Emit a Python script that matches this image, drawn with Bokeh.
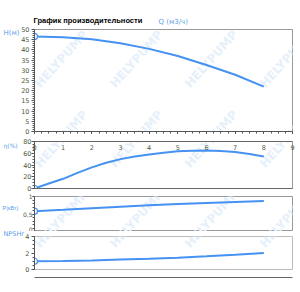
from bokeh.plotting import figure
from bokeh.layouts import column
from bokeh.models import Range1d, LinearAxis, Label, FixedTicker
from bokeh.embed import file_html
from bokeh.resources import INLINE

# ---- data ----
Q = [0, 1, 2, 3, 4, 5, 6, 7, 8]
H = [46.6, 46.2, 45.2, 43.3, 40.5, 37.0, 32.6, 27.8, 22.0]
Q_EFF = [0, 0.5, 1, 1.5, 2, 2.5, 3, 3.5, 4, 4.5, 5, 5.5, 6, 6.5, 7, 7.5, 8]
EFF = [0, 8.5, 16.5, 26.7, 36, 43.7, 50, 54.5, 58, 61, 63.3, 64.3, 64.7, 63.8, 62, 58.7, 54.5]
POWER = [0.58, 0.62, 0.665, 0.71, 0.75, 0.785, 0.815, 0.845, 0.87]
NPSH = [1.0, 1.03, 1.1, 1.2, 1.3, 1.43, 1.6, 1.78, 2.0]

x_ticks = [0, 1, 2, 3, 4, 5, 6, 7, 8, 9]
h_ticks = [0, 5, 10, 15, 20, 25, 30, 35, 40, 45, 50]
eff_ticks = [0, 20, 40, 60, 80]
p_ticks = [0, 0.5, 1]
npsh_ticks = [0, 2, 4]

title_text = "График производительности"
q_label = "Q (м3/ч)"
h_label = "H(м)"
eff_label = "η(%)"
p_label = "P(кВт)"
npsh_label = "NPSHr"
watermark = "HELYPUMP"

FONT = "DejaVu Sans"
LINE = "#4592f2"
TICK_TXT = "#4b5a3c"
LBL = "#5aa0e8"
AXIS = "#555555"


def make_fig(height, top, bottom, yr):
    p = figure(width=300, height=height, x_range=Range1d(0, 9), y_range=Range1d(*yr),
               output_backend="svg", toolbar_location=None,
               min_border_left=34, min_border_right=8,
               min_border_top=top, min_border_bottom=bottom,
               x_axis_location=None, y_axis_location=None)
    p.frame_align = False
    p.xgrid.visible = False
    p.ygrid.visible = False
    p.outline_line_color = "#999999"
    p.background_fill_color = "white"
    p.border_fill_color = "white"
    return p


def no_ticks(ax):
    ax.major_tick_out = 0
    ax.major_tick_in = 0
    ax.minor_tick_out = 0
    ax.minor_tick_in = 0


def left_axis(p, ticks, minor, overrides=None, standoff=2, tick=3, size="6.5px"):
    ax = LinearAxis(ticker=FixedTicker(ticks=ticks, minor_ticks=minor))
    ax.major_label_text_font_size = size
    ax.major_label_text_font = FONT
    ax.major_label_text_color = TICK_TXT
    ax.major_tick_out = tick
    ax.major_tick_in = 0
    ax.minor_tick_out = 2
    ax.minor_tick_in = 0
    ax.major_label_standoff = standoff
    for a in ("axis_line_color", "major_tick_line_color", "minor_tick_line_color"):
        setattr(ax, a, AXIS)
    if overrides:
        ax.major_label_overrides = overrides
    p.add_layout(ax, "left")


def side_text(p, side, x, y, t, color=LBL, size="7px", style="normal", font=FONT):
    # text kept in a side panel (outside the frame), placed in canvas pixels
    p.add_layout(Label(x=x, y=y, x_units="canvas", y_units="canvas", text=t,
                       text_font=font, text_font_size=size, text_color=color,
                       text_font_style=style, text_baseline="middle"), side)


def bare_bottom(p):
    ax = LinearAxis(ticker=FixedTicker(ticks=[]))
    ax.major_label_text_font_size = "0px"
    no_ticks(ax)
    ax.major_label_standoff = 0
    ax.axis_line_color = "#666666"
    p.add_layout(ax, "below")


def curve(p, x, y):
    p.line(x, y, line_color=LINE, line_width=2)
    p.scatter(x[:1], y[:1], size=6, marker="circle", fill_color="white",
              line_color=LINE, line_width=1.2)


def marks(p, y0):
    for gy in (62, 142, 222):
        for gx in (70, 145, 220, 295):
            p.add_layout(Label(x=gx - 28, y=gy + 28 - y0, x_units="canvas", y_units="canvas",
                               text=watermark, angle=48, angle_units="deg",
                               text_font=FONT, text_font_size="12px",
                               text_font_style="bold", text_color="#e6f0fb",
                               level="underlay"))


minor_x = [i * 0.25 for i in range(37)]

# ---- panel 1 : H ----
f1 = make_fig(134, 29, 3, (0, 50))
left_axis(f1, h_ticks, list(range(51)))
xb = LinearAxis(ticker=FixedTicker(ticks=x_ticks, minor_ticks=minor_x))
xb.major_label_text_font_size = "0px"
xb.major_label_standoff = 0
xb.major_tick_out = 3
xb.major_tick_in = 0
xb.minor_tick_out = 2
xb.minor_tick_in = 0
for a in ("axis_line_color", "major_tick_line_color", "minor_tick_line_color"):
    setattr(xb, a, AXIS)
f1.add_layout(xb, "below")
curve(f1, Q, H)
marks(f1, 0)
side_text(f1, "above", 33, 20, title_text, color="black", size="7.5px", style="bold",
          font="Liberation Sans")
side_text(f1, "above", 158, 21, q_label)
side_text(f1, "above", 3, 32, h_label)

# ---- panel 2 : efficiency ----
f2 = make_fig(58, 7, 4, (0, 80))
xt = LinearAxis(ticker=FixedTicker(ticks=x_ticks))
xt.major_label_text_font_size = "6.5px"
xt.major_label_text_font = FONT
xt.major_label_text_color = TICK_TXT
xt.major_label_text_line_height = 1.0
xt.major_label_standoff = -8
no_ticks(xt)
xt.axis_line_color = "#666666"
f2.add_layout(xt, "above")
left_axis(f2, eff_ticks, list(range(0, 81, 5)), standoff=0)
side_text(f2, "left", 3, 145 - 134, eff_label, size="6px")
bare_bottom(f2)
curve(f2, Q_EFF, EFF)
marks(f2, 134)

# ---- panel 3 : power ----
f3 = make_fig(39, 4, 0, (0, 1))
left_axis(f3, p_ticks, [i / 10 for i in range(11)], {0.5: "0,5"}, standoff=0, tick=2,
          size="6px")
side_text(f3, "left", 2, 207.5 - 192, p_label, size="5.5px", font="Liberation Sans")
curve(f3, Q, POWER)
marks(f3, 192)

# ---- panel 4 : NPSH ----
f4 = make_fig(61, 5, 23, (0, 4))
f4.outline_line_color = "#bbbbbb"
left_axis(f4, npsh_ticks, [i / 2 for i in range(9)])
side_text(f4, "below", 3, 233.5 - 231, npsh_label, size="6.5px")
bare_bottom(f4)
curve(f4, Q, NPSH)
marks(f4, 231)

layout = column(f1, f2, f3, f4, spacing=0)
open("out.html", "w").write(file_html(layout, INLINE))
